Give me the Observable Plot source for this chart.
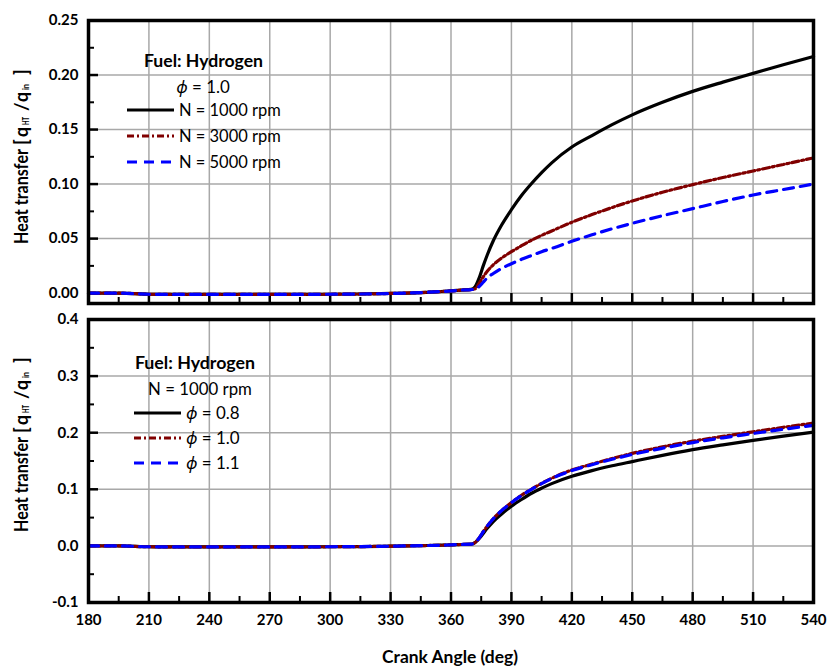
<!DOCTYPE html>
<html>
<head>
<meta charset="utf-8">
<script src="https://cdn.jsdelivr.net/npm/d3@7"></script>
<script src="https://cdn.jsdelivr.net/npm/@observablehq/plot@0.6"></script>
<style>
  html, body { margin: 0; padding: 0; background: #fff; }
  #wrap { position: relative; width: 827px; height: 667px; font-family: Lato, "Noto Sans", sans-serif; color: #000; }
  .abs { position: absolute; white-space: nowrap; line-height: 1; }
  .phi { font-family: "Noto Sans", "DejaVu Sans", sans-serif; font-style: italic; }
  .leg { font-size: 16px; transform: translateY(-50%); }
  .legb { font-size: 16px; font-weight: bold; transform: translate(-50%, -50%); }
  .legc { font-size: 16px; transform: translate(-50%, -50%); }
</style>
</head>
<body>
<div id="wrap"></div>
<script>
// ---- data ----
const angle = [180,195,210,225,240,255,270,285,300,315,330,345,355,360,365,370,372,374,376,378,381,385,390,395,400,405,410,420,430,440,450,465,480,495,510,525,540];

// Top panel: phi = 1.0, engine speed series
const n1000 = [0.000,0.000,-0.001,-0.0012,-0.0012,-0.0012,-0.0012,-0.0012,-0.001,-0.0008,-0.0003,0.0005,0.0015,0.002,0.0028,0.0035,
  0.006,0.014,0.025,0.035,0.048,0.062,0.0765,0.0895,0.1005,0.1105,0.1195,0.134,0.1445,0.1545,0.1635,0.175,0.185,0.1935,0.2015,0.2095,0.217];
const n3000 = [0.000,0.000,-0.001,-0.0012,-0.0012,-0.0012,-0.0012,-0.0012,-0.001,-0.0008,-0.0003,0.0005,0.0015,0.002,0.0028,0.0033,
  0.004,0.009,0.015,0.020,0.026,0.032,0.038,0.0435,0.0485,0.053,0.057,0.065,0.072,0.0785,0.0845,0.0925,0.0995,0.106,0.112,0.118,0.124];
const n5000 = [0.000,0.000,-0.001,-0.0012,-0.0012,-0.0012,-0.0012,-0.0012,-0.001,-0.0008,-0.0003,0.0005,0.0015,0.002,0.0028,0.0032,
  0.004,0.006,0.010,0.014,0.018,0.0225,0.027,0.031,0.0345,0.038,0.041,0.0475,0.0535,0.059,0.064,0.071,0.0775,0.084,0.090,0.095,0.100];

// Bottom panel: N = 1000 rpm, equivalence ratio series
const phi08 = [0.000,0.000,-0.0015,-0.0018,-0.0018,-0.0018,-0.0018,-0.0018,-0.0015,-0.0012,-0.0005,0.0005,0.0012,0.0018,0.0025,0.003,
  0.006,0.013,0.022,0.031,0.043,0.056,0.070,0.082,0.093,0.102,0.110,0.123,0.133,0.1415,0.149,0.160,0.170,0.1785,0.1865,0.194,0.201];
const phi10 = [0.000,0.000,-0.0015,-0.0018,-0.0018,-0.0018,-0.0018,-0.0018,-0.0015,-0.0012,-0.0005,0.0005,0.0012,0.0018,0.0025,0.003,
  0.006,0.014,0.025,0.035,0.048,0.062,0.0765,0.0895,0.1005,0.1105,0.1195,0.134,0.1445,0.1545,0.1635,0.175,0.185,0.1935,0.2015,0.2095,0.217];
const phi11 = [0.000,0.000,-0.0015,-0.0018,-0.0018,-0.0018,-0.0018,-0.0018,-0.0015,-0.0012,-0.0005,0.0005,0.0012,0.0018,0.0025,0.003,
  0.006,0.014,0.025,0.035,0.048,0.062,0.0765,0.089,0.100,0.110,0.119,0.133,0.1435,0.153,0.1615,0.1725,0.1825,0.191,0.1985,0.206,0.213];

// ticks
const xMajor = [180,210,240,270,300,330,360,390,420,450,480,510,540];
const xMinor = [195,225,255,285,315,345,375,405,435,465,495,525];
const yTopMajor = [0.00,0.05,0.10,0.15,0.20,0.25];
const yTopMinor = [0.025,0.075,0.125,0.175,0.225];
const yBotMajor = [-0.1,0.0,0.1,0.2,0.3,0.4];
const yBotMinor = [-0.05,0.05,0.15,0.25,0.35];

const topLegend = ["N = 1000 rpm","N = 3000 rpm","N = 5000 rpm"];
const botLegend = ["0.8","1.0","1.1"];

// ---- styles for series ----
const styles = [
  {stroke: "#000000", dash: null},
  {stroke: "#800000", dash: "7,3,2,3"},
  {stroke: "#0000ff", dash: "10,7"}
];

function rows(ys) { return angle.map((a, i) => ({angle: a, v: ys[i]})); }

const W = 827, ML = 88, MR = 14;

function panel({height, marginTop, marginBottom, yDomain, yMajor, yMinor, yFmt, series, xLabels}) {
  const plotH = height - marginTop - marginBottom;
  const plotW = W - ML - MR;
  const gridX = xMajor.slice(1, -1);
  const gridY = yMajor.slice(0, -1).filter(d => d > yDomain[0]);
  const marks = [
    Plot.ruleX(gridX, {x: d => d, stroke: "#a8a8a8", strokeWidth: 1.5}),
    Plot.ruleY(gridY, {y: d => d, stroke: "#a8a8a8", strokeWidth: 1.5}),
    Plot.axisY(yMajor, {tickSize: 0, tickPadding: 10, tickFormat: yFmt, fontSize: 15, fontWeight: "bold", label: null}),
    Plot.tickY(yMajor, {y: d => d, insetRight: plotW - 10, stroke: "black", strokeWidth: 2.5}),
    Plot.tickY(yMinor, {y: d => d, insetRight: plotW - 6, stroke: "black", strokeWidth: 2}),
    Plot.tickX(xMajor, {x: d => d, insetTop: plotH - 10, stroke: "black", strokeWidth: 2.5}),
    Plot.tickX(xMinor, {x: d => d, insetTop: plotH - 6, stroke: "black", strokeWidth: 2})
  ];
  if (xLabels) {
    marks.push(Plot.axisX(xMajor, {tickSize: 0, tickPadding: 12, fontSize: 15, fontWeight: "bold", label: null}));
  }
  series.forEach((ys, i) => {
    marks.push(Plot.line(rows(ys), {x: "angle", y: "v", stroke: styles[i].stroke, strokeWidth: 3.2,
      strokeDasharray: styles[i].dash, curve: "monotone-x"}));
  });
  marks.push(Plot.frame({stroke: "black", strokeWidth: 3.5}));
  return Plot.plot({
    width: W, height, marginLeft: ML, marginRight: MR, marginTop, marginBottom,
    x: {domain: [180, 540], axis: null},
    y: {domain: yDomain, axis: null},
    style: {fontFamily: "Lato, 'Noto Sans', sans-serif", color: "black", background: "white", overflow: "visible"},
    marks
  });
}

const wrap = document.getElementById("wrap");

const top1 = panel({height: 310, marginTop: 20, marginBottom: 7, yDomain: [-0.0095, 0.25],
  yMajor: yTopMajor, yMinor: yTopMinor, yFmt: d => d.toFixed(2), series: [n1000, n3000, n5000], xLabels: false});
top1.style.position = "absolute"; top1.style.left = "0px"; top1.style.top = "0px";
wrap.appendChild(top1);

const bot = panel({height: 357, marginTop: 9, marginBottom: 65, yDomain: [-0.1, 0.4],
  yMajor: yBotMajor, yMinor: yBotMinor, yFmt: d => d.toFixed(1), series: [phi08, phi10, phi11], xLabels: true});
bot.style.position = "absolute"; bot.style.left = "0px"; bot.style.top = "310px";
wrap.appendChild(bot);

// ---- overlay text: y labels, x title and legends ----
const fits = []; // [element, target width in px]
function add(html, cls, x, y, target) {
  const d = document.createElement("div");
  d.className = "abs " + cls;
  d.style.left = x + "px"; d.style.top = y + "px";
  d.innerHTML = html;
  wrap.appendChild(d);
  if (target) fits.push([d, target]);
  return d;
}
function sample(i) {
  const s = styles[i];
  return `<svg width="47" height="8" style="display:block"><line x1="0" y1="4" x2="47" y2="4" stroke="${s.stroke}" stroke-width="3" ${s.dash ? `stroke-dasharray="${s.dash}"` : ""}/></svg>`;
}
function ylabel(cy) {
  const d = document.createElement("div");
  d.className = "abs";
  d.style.left = "0px"; d.style.top = (cy - 130) + "px";
  d.innerHTML = `<svg width="44" height="260" style="display:block;overflow:visible">
    <g transform="translate(28,130) rotate(-90)" font-family="Lato, 'Noto Sans', sans-serif" font-weight="bold" fill="black">
      <text x="-91" y="0" font-size="18.5" textLength="95" lengthAdjust="spacingAndGlyphs">Heat transfer</text>
      <text x="8" y="0" font-size="18.5">[</text>
      <text x="16" y="0" font-size="18.5" textLength="10" lengthAdjust="spacingAndGlyphs">q</text>
      <text x="28" y="1" font-size="9" textLength="8" lengthAdjust="spacingAndGlyphs">HT</text>
      <text x="42" y="0" font-size="18.5">/</text>
      <text x="51" y="0" font-size="18.5" textLength="10" lengthAdjust="spacingAndGlyphs">q</text>
      <text x="63" y="1" font-size="9" textLength="6" lengthAdjust="spacingAndGlyphs">in</text>
      <text x="78" y="0" font-size="18.5">]</text>
    </g>
  </svg>`;
  wrap.appendChild(d);
}
ylabel(153);
ylabel(441);

// x title
add("Crank Angle (deg)", "legb", 450, 657, 136);

// top legend
add("Fuel: Hydrogen", "legb", 203.5, 61, 119);
add(`<span class="phi">ϕ</span> = 1.0`, "legc", 203, 87, 54);
const topRowsY = [110, 136, 162];
topLegend.forEach((t, i) => {
  add(sample(i), "", 127, topRowsY[i] - 4);
  add(t, "leg", 179, topRowsY[i], 102);
});

// bottom legend
add("Fuel: Hydrogen", "legb", 195, 363, 120);
add("N = 1000 rpm", "legc", 200, 389, 104);
const botRowsY = [413, 438, 463];
botLegend.forEach((t, i) => {
  add(sample(i), "", 134, botRowsY[i] - 4);
  add(`<span class="phi">ϕ</span> = ${t}`, "leg", 186, botRowsY[i], 54);
});

// size text so that its width matches the reference
function fitAll() {
  for (const [el, target] of fits) {
    for (let k = 0; k < 2; k++) {
      const w = el.offsetWidth;
      const fs = parseFloat(getComputedStyle(el).fontSize);
      if (w > 0) el.style.fontSize = (fs * target / w).toFixed(2) + "px";
    }
  }
}
fitAll();
if (document.fonts && document.fonts.ready) document.fonts.ready.then(fitAll);
</script>
</body>
</html>
